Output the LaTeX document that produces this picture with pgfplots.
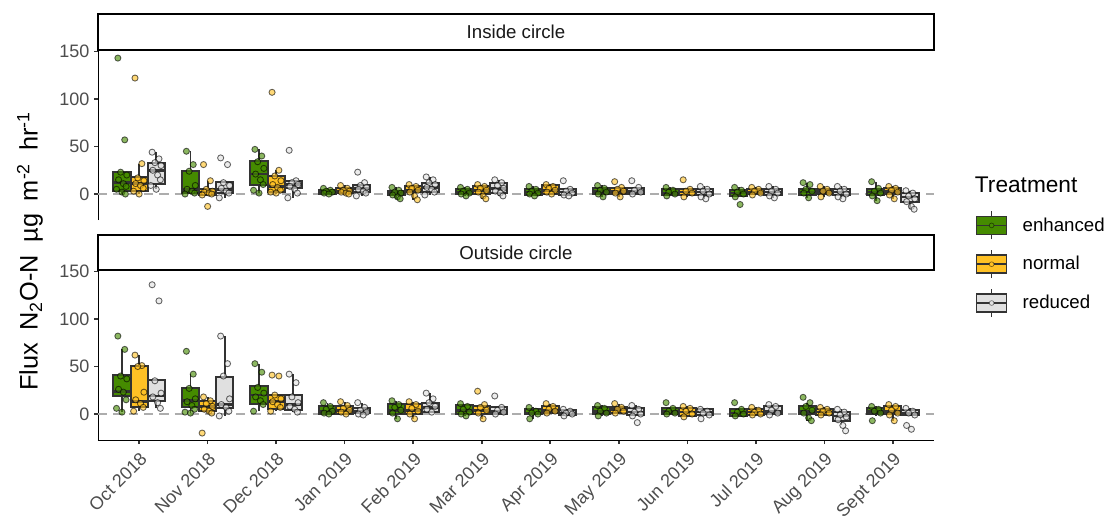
\documentclass[border=0pt]{standalone}
\usepackage{fontspec}
\setmainfont{Liberation Sans}
\usepackage{pgfplots}
\pgfplotsset{compat=1.18}
\definecolor{cE}{HTML}{458B00}
\definecolor{cN}{HTML}{FFC125}
\definecolor{cR}{HTML}{E0E0E0}
\definecolor{boxc}{HTML}{333333}
\definecolor{tickc}{HTML}{4D4D4D}
% box: position, lower whisker, lower quartile, median, upper quartile, upper whisker, fill colour
\newcommand{\bx}[7]{%
 \pgfmathsetmacro{\xa}{#1-0.125}\pgfmathsetmacro{\xb}{#1+0.125}%
 \addplot[forget plot, draw=boxc, line width=1.4pt] coordinates {(#1,#2)(#1,#3)};
 \addplot[forget plot, draw=boxc, line width=1.4pt] coordinates {(#1,#5)(#1,#6)};
 \addplot[forget plot, draw=boxc, fill=#7, line width=1.5pt, line cap=rect] coordinates {(\xa,#3)(\xb,#3)(\xb,#5)(\xa,#5)(\xa,#3)};
 \addplot[forget plot, draw=boxc, line width=2pt] coordinates {(\xa,#4)(\xb,#4)};
}
\pgfplotsset{
  pt/.style={forget plot, only marks, mark=*, mark size=2.3pt, mark options={solid, fill=#1, fill opacity=0.62, draw=black, draw opacity=0.6, line width=0.65pt}},
  tkey/.style={legend image code/.code={
     \draw[line width=1.1pt, boxc] (11.25pt,-10.5pt)--(11.25pt,10.5pt);
     \draw[line width=1.1pt, draw=boxc, fill=#1] (0pt,-6.75pt) rectangle (22.5pt,6.75pt);
     \draw[line width=1.1pt, boxc] (0pt,0pt)--(22.5pt,0pt);
     \fill[fill=#1, draw=black, draw opacity=0.5, line width=0.5pt] (11.25pt,0pt) circle (1.8pt);}},
  panel/.style={scale only axis, width=627pt, height=127.5pt, anchor=south west,
    xmin=0.4, xmax=12.6, ymin=-27.3, ymax=151.5, clip=false,
    ytick={0,50,100,150}, tick align=outside, major tick length=3pt,
    tick style={line width=1.2pt, color=boxc},
    every axis y line/.append style={line width=1.5pt},
    every axis x line/.append style={line width=1.5pt},
    yticklabel style={font=\fontsize{13.5}{15}\selectfont, color=tickc},
    xticklabel style={font=\fontsize{13.5}{15}\selectfont, color=tickc},
    /pgf/number format/assume math mode=true},
}
\begin{document}
\begin{tikzpicture}
\useasboundingbox (0,0) rectangle (832.5pt,391.5pt);
% ---------------- top panel ----------------
\begin{axis}[panel, at={(73.5pt,226.5pt)}, axis x line=none, axis y line*=left,
  legend style={draw=none, fill=none, at={(1.045,0.072)}, anchor=north west,
    font=\fontsize{14}{16}\selectfont, row sep=7pt, cells={anchor=west},
    /tikz/every odd column/.append style={column sep=9.5pt}},
  legend cell align=left]
\addplot[forget plot, color=black!32, line width=1.4pt, dash pattern=on 7pt off 4.5pt] coordinates {(0.4,0) (12.6,0)};
\bx{0.75}{0}{3.5}{12}{23}{23}{cE}
\bx{1}{0}{3.5}{11}{17.6}{32}{cN}
\bx{1.25}{5}{10.6}{25}{32.8}{44}{cR}
\bx{1.75}{0}{1}{5}{24.7}{45}{cE}
\bx{2}{-2}{-1}{2}{5}{14}{cN}
\bx{2.25}{-4}{1}{5}{12.5}{12.5}{cR}
\bx{2.75}{1}{9.9}{21}{34.6}{47}{cE}
\bx{3}{0}{1.8}{8}{19.4}{25}{cN}
\bx{3.25}{-4}{6.3}{10}{14}{14}{cR}
\bx{3.75}{-0.5}{0.5}{2}{4}{6}{cE}
\bx{4}{-1}{1}{3}{6}{9}{cN}
\bx{4.25}{-2}{2.5}{6}{9.5}{12}{cR}
\bx{4.75}{-5}{-1}{1}{3.5}{7}{cE}
\bx{5}{-6}{1.8}{4}{8.8}{10}{cN}
\bx{5.25}{-1}{2}{7}{12}{18}{cR}
\bx{5.75}{-2}{0}{2}{5}{7}{cE}
\bx{6}{-5}{0}{4}{8}{10}{cN}
\bx{6.25}{-2}{1}{6}{12}{15}{cR}
\bx{6.75}{-2}{-1}{2}{5}{8}{cE}
\bx{7}{0}{0}{4}{9}{10}{cN}
\bx{7.25}{-2}{-1}{2}{5}{5}{cR}
\bx{7.75}{-3}{0}{3}{6}{9}{cE}
\bx{8}{-3}{0}{3}{6}{7}{cN}
\bx{8.25}{-1}{0}{3}{6}{7}{cR}
\bx{8.75}{-2}{-1}{1}{5}{7}{cE}
\bx{9}{-3}{-1}{2}{5}{5}{cN}
\bx{9.25}{-5}{-1}{2}{5}{8}{cR}
\bx{9.75}{-3}{-2}{1}{4.6}{7}{cE}
\bx{10}{-1}{0}{2}{5}{7}{cN}
\bx{10.25}{-4}{-1}{2}{5}{8}{cR}
\bx{10.75}{-4}{-1}{2}{5}{12}{cE}
\bx{11}{-3}{0}{3}{5}{8}{cN}
\bx{11.25}{-5}{-1}{2}{5}{8}{cR}
\bx{11.75}{-7}{-1}{2}{5}{13}{cE}
\bx{12}{-5}{0}{3}{6}{8}{cN}
\bx{12.25}{-16}{-8}{-3}{1}{3.5}{cR}
\addplot[pt=cE] coordinates {
(0.69,143)(0.79,57)(0.73,23)(0.82,20)(0.70,15)(0.77,11)(0.81,8)(0.67,5)(0.75,2)(0.80,0)
(1.69,45)(1.79,31)(1.73,24)(1.82,9)(1.70,5)(1.77,3)(1.81,1)(1.67,0)
(2.69,47)(2.79,40)(2.73,34)(2.82,27)(2.70,21)(2.77,15)(2.81,10)(2.67,4)(2.75,1)
(3.69,6)(3.79,4)(3.73,3)(3.82,2)(3.70,1)(3.77,0)
(4.69,7)(4.79,4)(4.73,2)(4.82,1)(4.70,-1)(4.77,-3)(4.81,-5)
(5.69,7)(5.79,5)(5.73,3)(5.82,1)(5.70,0)(5.77,-2)
(6.69,8)(6.79,5)(6.73,3)(6.82,1)(6.70,0)(6.77,-2)
(7.69,9)(7.79,6)(7.73,4)(7.82,2)(7.70,0)(7.77,-3)
(8.69,7)(8.79,4)(8.73,2)(8.82,0)(8.70,-2)
(9.69,7)(9.79,4)(9.73,2)(9.82,0)(9.70,-3)(9.77,-11)
(10.69,12)(10.79,10)(10.73,5)(10.82,3)(10.70,1)(10.77,-4)
(11.69,13)(11.79,6)(11.73,3)(11.82,1)(11.70,-2)(11.77,-7)};
\addplot[pt=cN] coordinates {
(0.94,122)(1.04,32)(0.98,17)(1.07,14)(0.95,11)(1.02,9)(1.06,6)(0.92,3)(1.00,0)
(1.94,31)(2.04,14)(1.98,5)(2.07,3)(1.95,2)(2.02,1)(2.06,0)(1.92,-1)(2.00,-13)
(2.94,107)(3.04,25)(2.98,19)(3.07,14)(2.95,10)(3.02,7)(3.06,4)(2.92,2)(3.00,1)
(3.94,9)(4.04,6)(3.98,4)(4.07,3)(3.95,2)(4.02,1)(4.06,0)
(4.94,10)(5.04,8)(4.98,6)(5.07,4)(4.95,2)(5.02,-2)(5.06,-6)
(5.94,10)(6.04,8)(5.98,6)(6.07,4)(5.95,2)(6.02,-2)(6.06,-5)
(6.94,10)(7.04,8)(6.98,6)(7.07,4)(6.95,2)(7.02,0)
(7.94,13)(8.04,7)(7.98,5)(8.07,3)(7.95,1)(8.02,-3)
(8.94,15)(9.04,5)(8.98,3)(9.07,1)(8.95,-3)
(9.94,7)(10.04,5)(9.98,3)(10.07,1)(9.95,-1)
(10.94,8)(11.04,5)(10.98,3)(11.07,1)(10.95,-3)
(11.94,8)(12.04,6)(11.98,4)(12.07,2)(11.95,-1)(12.02,-5)};
\addplot[pt=cR] coordinates {
(1.19,44)(1.29,37)(1.23,33)(1.32,30)(1.20,25)(1.27,20)(1.31,15)(1.17,9)(1.25,5)
(2.19,38)(2.29,31)(2.23,12)(2.32,9)(2.20,6)(2.27,3)(2.31,1)(2.17,-4)
(3.19,46)(3.29,14)(3.23,12)(3.32,10)(3.20,8)(3.27,5)(3.31,1)(3.17,-4)
(4.19,23)(4.29,12)(4.23,9)(4.32,7)(4.20,5)(4.27,3)(4.31,1)(4.17,-2)
(5.19,18)(5.29,15)(5.23,12)(5.32,10)(5.20,7)(5.27,5)(5.31,2)(5.17,-1)
(6.19,15)(6.29,12)(6.23,9)(6.32,6)(6.20,3)(6.27,1)(6.31,-2)
(7.19,14)(7.29,5)(7.23,3)(7.32,1)(7.20,-1)(7.27,-2)
(8.19,14)(8.29,7)(8.23,4)(8.32,2)(8.20,0)
(9.19,8)(9.29,5)(9.23,3)(9.32,0)(9.20,-3)(9.27,-5)
(10.19,8)(10.29,5)(10.23,3)(10.32,1)(10.20,-2)(10.27,-4)
(11.19,8)(11.29,5)(11.23,3)(11.32,0)(11.20,-3)(11.27,-5)
(12.19,3.5)(12.29,1)(12.23,-2)(12.32,-5)(12.20,-8)(12.27,-13)(12.31,-16)};
\draw[line width=1.5pt, fill=white] (rel axis cs:0,1) rectangle (rel axis cs:1,1.2118);
\node[font=\fontsize{14}{16}\selectfont, text=black!90] at (rel axis cs:0.5,1.1059) {Inside circle};
\addlegendimage{tkey=cE}\addlegendentry{enhanced}
\addlegendimage{tkey=cN}\addlegendentry{normal}
\addlegendimage{tkey=cR}\addlegendentry{reduced}
\end{axis}
% ---------------- bottom panel ----------------
\begin{axis}[panel, at={(73.5pt,61.5pt)}, axis lines*=left,
  xtick={1,2,3,4,5,6,7,8,9,10,11,12},
  xticklabels={Oct 2018,Nov 2018,Dec 2018,Jan 2019,Feb 2019,Mar 2019,Apr 2019,May 2019,Jun 2019,Jul 2019,Aug 2019,Sept 2019},
  xticklabel style={rotate=45, anchor=north east, inner sep=1pt}, xticklabel shift=4pt]
\addplot[forget plot, color=black!32, line width=1.4pt, dash pattern=on 7pt off 4.5pt] coordinates {(0.4,0) (12.6,0)};
\bx{0.75}{2}{19.4}{24}{41.2}{68}{cE}
\bx{1}{3}{7.7}{13}{51}{62}{cN}
\bx{1.25}{6}{13.4}{19}{36}{36}{cR}
\bx{1.75}{1}{7}{14}{27.8}{42}{cE}
\bx{2}{1}{2.8}{8}{14}{18}{cN}
\bx{2.25}{-2}{6}{10}{38.8}{82}{cR}
\bx{2.75}{3}{10.6}{20}{30}{53}{cE}
\bx{3}{3}{5.3}{13}{20}{20}{cN}
\bx{3.25}{2}{4.2}{10}{20}{42}{cR}
\bx{3.75}{0}{0.5}{3}{8}{12}{cE}
\bx{4}{0}{0.5}{4}{8}{13}{cN}
\bx{4.25}{-1}{1}{3}{6}{12}{cR}
\bx{4.75}{-5}{0}{4}{10.6}{14}{cE}
\bx{5}{-5}{0}{4}{10.6}{13}{cN}
\bx{5.25}{2}{2}{7}{12}{22}{cR}
\bx{5.75}{-2}{0}{4}{9}{11}{cE}
\bx{6}{-5}{0}{4}{8}{10}{cN}
\bx{6.25}{0}{0}{3}{7}{7}{cR}
\bx{6.75}{-5}{0}{1}{5}{7}{cE}
\bx{7}{1}{1}{4}{8}{11}{cN}
\bx{7.25}{-2}{-1}{1}{4}{5}{cR}
\bx{7.75}{-2}{0}{3}{7}{9}{cE}
\bx{8}{1}{1}{5}{7}{11}{cN}
\bx{8.25}{-2}{-1}{2}{6}{9}{cR}
\bx{8.75}{0}{0}{3}{6}{6}{cE}
\bx{9}{-3}{-2}{2}{6}{8}{cN}
\bx{9.25}{-1}{-1}{2}{5}{5}{cR}
\bx{9.75}{-2}{-2}{1}{5}{5}{cE}
\bx{10}{-1}{-1}{2}{5}{7}{cN}
\bx{10.25}{-1}{0}{3}{8}{10}{cR}
\bx{10.75}{-7}{0}{3}{8}{12}{cE}
\bx{11}{-1}{-1}{2}{5}{7}{cN}
\bx{11.25}{-12}{-7}{-2}{1.8}{5}{cR}
\bx{11.75}{-2}{0}{3}{6}{8}{cE}
\bx{12}{-7}{0}{3}{8}{10}{cN}
\bx{12.25}{-1}{-1}{1}{4}{6}{cR}
\addplot[pt=cE] coordinates {
(0.69,82)(0.79,68)(0.73,40)(0.82,37)(0.70,26)(0.77,23)(0.81,15)(0.67,6)(0.75,2)
(1.69,66)(1.79,42)(1.73,27)(1.82,16)(1.70,13)(1.77,9)(1.81,5)(1.67,2)(1.75,1)
(2.69,53)(2.79,44)(2.73,28)(2.82,22)(2.70,18)(2.77,14)(2.81,10)(2.67,3)
(3.69,12)(3.79,8)(3.73,5)(3.82,3)(3.70,1)(3.77,0)
(4.69,14)(4.79,10)(4.73,7)(4.82,4)(4.70,1)(4.77,-5)
(5.69,11)(5.79,8)(5.73,5)(5.82,2)(5.70,0)(5.77,-2)
(6.69,7)(6.79,3)(6.73,1)(6.82,0)(6.70,-5)
(7.69,9)(7.79,6)(7.73,3)(7.82,1)(7.70,-2)
(8.69,12)(8.79,6)(8.73,3)(8.82,1)(8.70,0)
(9.69,12)(9.79,5)(9.73,2)(9.82,0)(9.70,-2)
(10.69,17.6)(10.79,12)(10.73,8)(10.82,4)(10.70,1)(10.77,-4)(10.81,-7)
(11.69,8)(11.79,5)(11.73,3)(11.82,1)(11.70,-7)};
\addplot[pt=cN] coordinates {
(0.94,62)(1.04,51)(0.98,50)(1.07,23)(0.95,15)(1.02,11)(1.06,7)(0.92,3)
(1.94,18)(2.04,14)(1.98,11)(2.07,8)(1.95,5)(2.02,3)(2.06,1)(1.92,-20)
(2.94,41)(3.04,40)(2.98,20)(3.07,16)(2.95,13)(3.02,10)(3.06,7)(2.92,3)
(3.94,13)(4.04,9)(3.98,6)(4.07,4)(3.95,2)(4.02,0)
(4.94,13)(5.04,10)(4.98,6)(5.07,3)(4.95,0)(5.02,-5)
(5.94,24)(6.04,10)(5.98,7)(6.07,4)(5.95,1)(6.02,-5)
(6.94,11)(7.04,8)(6.98,5)(7.07,3)(6.95,1)
(7.94,11)(8.04,7)(7.98,5)(8.07,3)(7.95,1)
(8.94,8)(9.04,6)(8.98,3)(9.07,0)(8.95,-3)
(9.94,7)(10.04,4)(9.98,2)(10.07,0)(9.95,-1)
(10.94,7)(11.04,5)(10.98,3)(11.07,1)(10.95,-1)
(11.94,10)(12.04,8)(11.98,4)(12.07,1)(11.95,-1)(12.02,-7)};
\addplot[pt=cR] coordinates {
(1.19,136)(1.29,119)(1.23,35)(1.32,22)(1.20,18)(1.27,12)(1.31,6)
(2.19,82)(2.29,53)(2.23,40)(2.32,16)(2.20,10)(2.27,7)(2.31,3)(2.17,-2)
(3.19,42)(3.29,33)(3.23,18)(3.32,12)(3.20,8)(3.27,5)(3.31,2)
(4.19,12)(4.29,7)(4.23,4)(4.32,2)(4.20,0)(4.27,-1)
(5.19,22)(5.29,16)(5.23,12)(5.32,8)(5.20,5)(5.27,2)
(6.19,19)(6.29,7)(6.23,4)(6.32,2)(6.20,0)
(7.19,5)(7.29,3)(7.23,1)(7.32,0)(7.20,-2)
(8.19,9)(8.29,5)(8.23,2)(8.32,0)(8.20,-2)(8.27,-9)
(9.19,5)(9.29,3)(9.23,1)(9.32,-1)(9.20,-5)
(10.19,10)(10.29,8)(10.23,4)(10.32,1)(10.20,-1)
(11.19,5)(11.29,2)(11.23,-1)(11.32,-3)(11.20,-6)(11.27,-12)(11.31,-17.6)
(12.19,6)(12.29,3)(12.23,1)(12.32,-1)(12.20,-12)(12.27,-16)};
\draw[line width=1.5pt, fill=white] (rel axis cs:0,1) rectangle (rel axis cs:1,1.206);
\node[font=\fontsize{14}{16}\selectfont, text=black!90] at (rel axis cs:0.5,1.103) {Outside circle};
\end{axis}
\node[rotate=90, font=\fontsize{19}{22}\selectfont] at (22.5pt,203pt) {Flux\hspace{0.5em}N\textsubscript{2}O-N\hspace{0.5em}µg\hspace{0.5em}m\textsuperscript{-2}\hspace{0.5em}hr\textsuperscript{-1}};
\node[anchor=west, inner sep=0pt, font=\fontsize{17}{20}\selectfont] at (731pt,252.75pt) {Treatment};
\end{tikzpicture}
\end{document}
